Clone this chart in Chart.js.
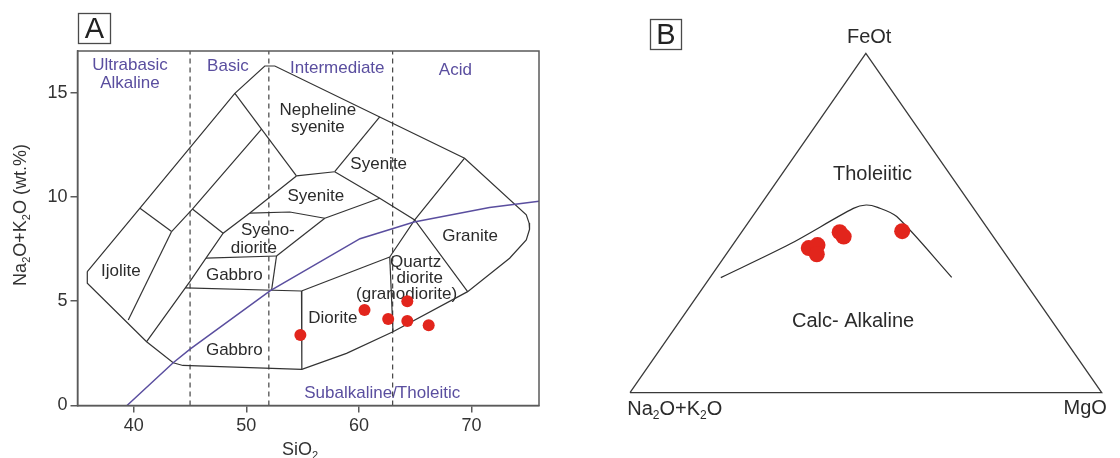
<!DOCTYPE html>
<html>
<head>
<meta charset="utf-8">
<script src="https://cdn.jsdelivr.net/npm/chart.js@4.4.1/dist/chart.umd.min.js"></script>
<style>
  html, body { margin: 0; padding: 0; background: #fff; }
  #wrap { position: relative; width: 1120px; height: 458px; overflow: hidden; background: #fff; }
  canvas { position: absolute; top: 0; }
  #tas { left: 0; }
  #afm { left: 560px; }
</style>
</head>
<body>
<div id="wrap">
  <canvas id="tas" width="560" height="458"></canvas>
  <canvas id="afm" width="560" height="458"></canvas>
</div>
<script>
// ---------- Panel A: total alkali vs silica (plutonic) ----------
const sio2Ticks = [40, 50, 60, 70];
const alkaliTicks = [0, 5, 10, 15];

// samples (wt.%)
const sampleSiO2   = [54.8, 60.5, 62.6, 64.3, 64.3, 66.2];
const sampleAlkali = [3.38, 4.58, 4.15, 5.00, 4.05, 3.85];

// ultrabasic / basic / intermediate / acid limits
const silicaDivisions = [45, 52, 63];

// alkaline / subalkaline divide
const divideSiO2   = [39.4, 43.5, 45.0, 52.1, 60.1, 64.9, 71.6, 76.0];
const divideAlkali = [0.00, 2.05, 2.70, 5.50, 8.00, 8.80, 9.50, 9.80];

// field boundaries, [SiO2, Na2O+K2O]
const outerBoundary = [[35.87,6.42],[40.55,9.46],[48.98,14.97],[51.64,16.28],[52.53,16.28],[69.39,11.86],
  [74.87,9.14],[75.12,8.75],[75.16,8.45],[74.87,7.94],[73.39,7.06],[69.66,5.46],[63.03,3.54],[58.9,2.5],
  [54.93,1.73],[44.36,1.92],[43.5,2.05],[41.14,3.06],[35.87,5.86],[35.87,6.42]];
const ijoliteTop        = [[40.55,9.46],[43.36,8.34]];
const ijoliteEast       = [[43.36,8.34],[39.51,4.10]];
const alkalineStrip     = [[43.36,8.34],[45.21,9.42],[51.35,13.25]];
const stripDivider      = [[45.21,9.42],[47.94,8.26]];
const nephSyeniteWest   = [[48.98,14.97],[54.45,11.01]];
const gabbroWest        = [[54.45,11.01],[50.31,9.23],[47.94,8.26],[44.98,5.94],[41.14,3.06]];
const nephSyeniteBase   = [[54.45,11.01],[57.85,11.21]];
const nephSyeniteEast   = [[57.85,11.21],[61.85,13.84]];
const syeniteBase       = [[57.85,11.21],[61.85,9.94],[64.96,8.90],[69.66,5.46]];
const graniteWest       = [[69.39,11.86],[64.96,8.90],[62.74,7.12]];
const quartzDioriteWest = [[62.74,7.12],[63.03,3.54]];
const dioriteTop        = [[54.90,5.49],[62.74,7.12]];
const dioriteWest       = [[54.90,5.49],[54.93,1.73]];
const gabbroTop         = [[44.58,5.64],[54.90,5.49]];
const syenodioriteBase  = [[46.42,7.07],[52.68,7.17]];
const gabbroEast        = [[52.68,7.17],[52.24,5.52]];
const syenodioriteEast  = [[52.68,7.17],[56.97,8.98]];
const syenodioriteTop   = [[50.31,9.23],[53.86,9.28],[56.97,8.98]];
const syeniteWestBase   = [[56.97,8.98],[61.85,9.94]];

// ---------- Panel B: AFM ternary ----------
// samples, wt.% of Na2O+K2O (A), FeOt (F), MgO (M)
const afmA = [40.8, 38.5, 40.0, 31.9, 31.7, 18.5];
const afmF = [42.6, 43.5, 40.8, 47.3, 46.0, 47.6];
const afmM = [16.6, 18.0, 19.2, 20.8, 22.3, 33.9];

// tholeiitic / calc-alkaline boundary
const curveA = [63.8, 44.2, 25.5, 22.3, 20.2, 17.5, 14.8];
const curveF = [33.9, 43.8, 54.3, 55.3, 54.6, 51.9, 34.0];
const curveM = [ 2.3, 12.0, 20.2, 22.4, 25.2, 30.6, 51.2];

// triangle corners A, F, M
const cornerA = [100, 0, 0];
const cornerF = [0, 100, 0];
const cornerM = [0, 0, 100];

// ---------- helpers ----------
const FAMILY = '"Liberation Sans", Arial, Helvetica, sans-serif';
const INK = '#2b2b2b';
const PURPLE = '#5a4e9f';
const RED = '#e2251c';

const toPts = arr => arr.map(([x, y]) => ({ x, y }));
// ternary (A, F, M) -> plane, A at (0,0), M at (1,0), F at (0.5,1)
function ternary(a, f, m) {
  const s = a + f + m;
  return { x: (m + f / 2) / s, y: f / s };
}

function boundary(pts, extra) {
  return Object.assign({
    data: toPts(pts), showLine: true, borderColor: '#333', borderWidth: 1.2,
    pointRadius: 0, pointHoverRadius: 0, fill: false, tension: 0, order: 3, clip: false
  }, extra || {});
}

// draws text built of normal and subscript parts, x centred, y = baseline
function richText(ctx, parts, x, y, size, color) {
  const main = size + 'px ' + FAMILY;
  const sub = Math.round(size * 0.62) + 'px ' + FAMILY;
  ctx.save();
  ctx.fillStyle = color;
  ctx.textBaseline = 'alphabetic';
  ctx.textAlign = 'left';
  let w = 0;
  parts.forEach(p => { ctx.font = p.sub ? sub : main; w += ctx.measureText(p.t).width; });
  let cx = x - w / 2;
  parts.forEach(p => {
    ctx.font = p.sub ? sub : main;
    ctx.fillText(p.t, cx, y + (p.sub ? size * 0.2 : 0));
    cx += ctx.measureText(p.t).width;
  });
  ctx.restore();
}

function drawLabels(chart, labels) {
  const ctx = chart.ctx, sx = chart.scales.x, sy = chart.scales.y;
  ctx.save();
  ctx.textAlign = 'center';
  ctx.textBaseline = 'middle';
  labels.forEach(l => {
    ctx.font = l.size + 'px ' + FAMILY;
    ctx.fillStyle = l.color;
    ctx.fillText(l.text, sx.getPixelForValue(l.x), sy.getPixelForValue(l.y));
  });
  ctx.restore();
}

function panelTag(ctx, letter, x, y, w, h) {
  ctx.save();
  ctx.strokeStyle = '#4a4a4a';
  ctx.lineWidth = 1.3;
  ctx.strokeRect(x + 0.5, y + 0.5, w, h);
  ctx.fillStyle = '#222';
  ctx.font = '29px ' + FAMILY;
  ctx.textAlign = 'center';
  ctx.textBaseline = 'middle';
  ctx.fillText(letter, x + w / 2 + 0.5, y + h / 2 + 2);
  ctx.restore();
}

const whiteBg = {
  id: 'whiteBg',
  beforeDraw(chart) {
    const c = chart.ctx;
    c.save(); c.fillStyle = '#fff'; c.fillRect(0, 0, chart.width, chart.height); c.restore();
  }
};

// ---------- Panel A chart ----------
const tasLabels = [
  { text: 'Ultrabasic', x: 39.66, y: 16.33, color: PURPLE, size: 17 },
  { text: 'Alkaline', x: 39.66, y: 15.47, color: PURPLE, size: 17 },
  { text: 'Basic', x: 48.36, y: 16.28, color: PURPLE, size: 17 },
  { text: 'Intermediate', x: 58.08, y: 16.19, color: PURPLE, size: 17 },
  { text: 'Acid', x: 68.57, y: 16.09, color: PURPLE, size: 17 },
  { text: 'Subalkaline/Tholeitic', x: 62.07, y: 0.60, color: PURPLE, size: 17 },
  { text: 'Nepheline', x: 56.35, y: 14.17, color: INK, size: 17 },
  { text: 'syenite', x: 56.35, y: 13.36, color: INK, size: 17 },
  { text: 'Syenite', x: 61.76, y: 11.59, color: INK, size: 17 },
  { text: 'Syenite', x: 56.17, y: 10.05, color: INK, size: 17 },
  { text: 'Syeno-', x: 51.91, y: 8.42, color: INK, size: 17 },
  { text: 'diorite', x: 50.67, y: 7.55, color: INK, size: 17 },
  { text: 'Gabbro', x: 48.93, y: 6.26, color: INK, size: 17 },
  { text: 'Ijolite', x: 38.86, y: 6.42, color: INK, size: 17 },
  { text: 'Gabbro', x: 48.93, y: 2.66, color: INK, size: 17 },
  { text: 'Diorite', x: 57.68, y: 4.20, color: INK, size: 17 },
  { text: 'Quartz', x: 65.04, y: 6.88, color: INK, size: 17 },
  { text: 'diorite', x: 65.40, y: 6.12, color: INK, size: 17 },
  { text: '(granodiorite)', x: 64.24, y: 5.35, color: INK, size: 17 },
  { text: 'Granite', x: 69.88, y: 8.10, color: INK, size: 17 }
];

const tasDecor = {
  id: 'tasDecor',
  beforeDatasetsDraw(chart) { drawLabels(chart, tasLabels); },
  afterDraw(chart) {
    const ctx = chart.ctx, a = chart.chartArea;
    ctx.save();
    ctx.strokeStyle = '#5a5a5a';
    ctx.lineWidth = 1.5;
    ctx.strokeRect(a.left, a.top, a.right - a.left, a.bottom - a.top);
    ctx.restore();
    panelTag(ctx, 'A', 78, 13, 32, 30);
    // axis titles
    richText(ctx, [{ t: 'SiO' }, { t: '2', sub: true }], 300, 455, 18, '#333');
    ctx.save();
    ctx.translate(26, 215);
    ctx.rotate(-Math.PI / 2);
    richText(ctx, [{ t: 'Na' }, { t: '2', sub: true }, { t: 'O+K' }, { t: '2', sub: true }, { t: 'O (wt.%)' }], 0, 0, 18, '#333');
    ctx.restore();
  }
};

const tasDatasets = [
  {
    data: sampleSiO2.map((x, i) => ({ x, y: sampleAlkali[i] })),
    pointRadius: 6, pointHoverRadius: 6, backgroundColor: RED, borderWidth: 0, order: 0, clip: false
  },
  boundary(divideSiO2.map((x, i) => [x, divideAlkali[i]]), { borderColor: PURPLE, borderWidth: 1.5, order: 1 }),
  ...silicaDivisions.map(x => boundary([[x, 0], [x, 17]], { borderColor: '#333', borderWidth: 1.1, borderDash: [5, 4], order: 2 })),
  ...[outerBoundary, ijoliteTop, ijoliteEast, alkalineStrip, stripDivider, nephSyeniteWest, gabbroWest,
      nephSyeniteBase, nephSyeniteEast, syeniteBase, graniteWest, quartzDioriteWest, dioriteTop, dioriteWest,
      gabbroTop, syenodioriteBase, gabbroEast, syenodioriteEast, syenodioriteTop, syeniteWestBase]
    .map(p => boundary(p))
];

const axisStyle = {
  ticks: { font: { family: FAMILY, size: 18 }, color: '#333', padding: 3, maxRotation: 0, autoSkip: false },
  grid: { drawOnChartArea: false, drawTicks: true, tickLength: 7, color: '#5a5a5a', lineWidth: 1.5 },
  border: { display: true, color: '#5a5a5a', width: 1.5 },
  title: { display: false }
};

new Chart(document.getElementById('tas'), {
  type: 'scatter',
  data: { datasets: tasDatasets },
  options: {
    responsive: false, animation: false, devicePixelRatio: 1,
    layout: { padding: { left: 0, top: 51, right: 21, bottom: 0 } },
    plugins: { legend: { display: false }, tooltip: { enabled: false } },
    events: [],
    scales: {
      x: Object.assign({}, axisStyle, {
        type: 'linear', min: 35, max: 76,
        afterFit(s) { s.height = 52.5; },
        afterBuildTicks(s) { s.ticks = sio2Ticks.map(v => ({ value: v })); }
      }),
      y: Object.assign({}, axisStyle, {
        type: 'linear', min: 0, max: 17,
        afterFit(s) { s.width = 77.5; },
        afterBuildTicks(s) { s.ticks = alkaliTicks.map(v => ({ value: v })); }
      })
    }
  },
  plugins: [whiteBg, tasDecor]
});

// ---------- Panel B chart ----------
const afmLabels = [
  { text: 'Tholeiitic', x: 0.514, y: 0.644, color: INK, size: 20 },
  { text: 'Calc- Alkaline', x: 0.473, y: 0.209, color: INK, size: 20 },
  { text: 'FeOt', x: 0.507, y: 1.048, color: INK, size: 20 },
  { text: 'MgO', x: 0.965, y: -0.046, color: INK, size: 20 }
];

const afmDecor = {
  id: 'afmDecor',
  beforeDatasetsDraw(chart) { drawLabels(chart, afmLabels); },
  afterDraw(chart) {
    const ctx = chart.ctx;
    panelTag(ctx, 'B', 90, 19, 31, 30);
    const sx = chart.scales.x, sy = chart.scales.y;
    richText(ctx, [{ t: 'Na' }, { t: '2', sub: true }, { t: 'O+K' }, { t: '2', sub: true }, { t: 'O' }],
      sx.getPixelForValue(0.095), sy.getPixelForValue(-0.046) + 7, 20, INK);
  }
};

const afmDatasets = [
  {
    data: afmA.map((a, i) => ternary(a, afmF[i], afmM[i])),
    pointRadius: 8, pointHoverRadius: 8, backgroundColor: RED, borderWidth: 0, order: 0, clip: false
  },
  boundary([], {
    data: curveA.map((a, i) => ternary(a, curveF[i], curveM[i])),
    borderColor: '#2e2e2e', borderWidth: 1.2, tension: 0.3, order: 1
  }),
  boundary([], {
    data: [cornerA, cornerF, cornerM, cornerA].map(c => ternary(c[0], c[1], c[2])),
    borderColor: '#3a3a3a', borderWidth: 1.3, order: 2
  })
];

new Chart(document.getElementById('afm'), {
  type: 'scatter',
  data: { datasets: afmDatasets },
  options: {
    responsive: false, animation: false, devicePixelRatio: 1,
    layout: { padding: { left: 70, top: 53.3, right: 18.3, bottom: 65.3 } },
    plugins: { legend: { display: false }, tooltip: { enabled: false } },
    events: [],
    scales: {
      x: { type: 'linear', min: 0, max: 1, display: false },
      y: { type: 'linear', min: 0, max: 1, display: false }
    }
  },
  plugins: [whiteBg, afmDecor]
});
</script>
</body>
</html>
